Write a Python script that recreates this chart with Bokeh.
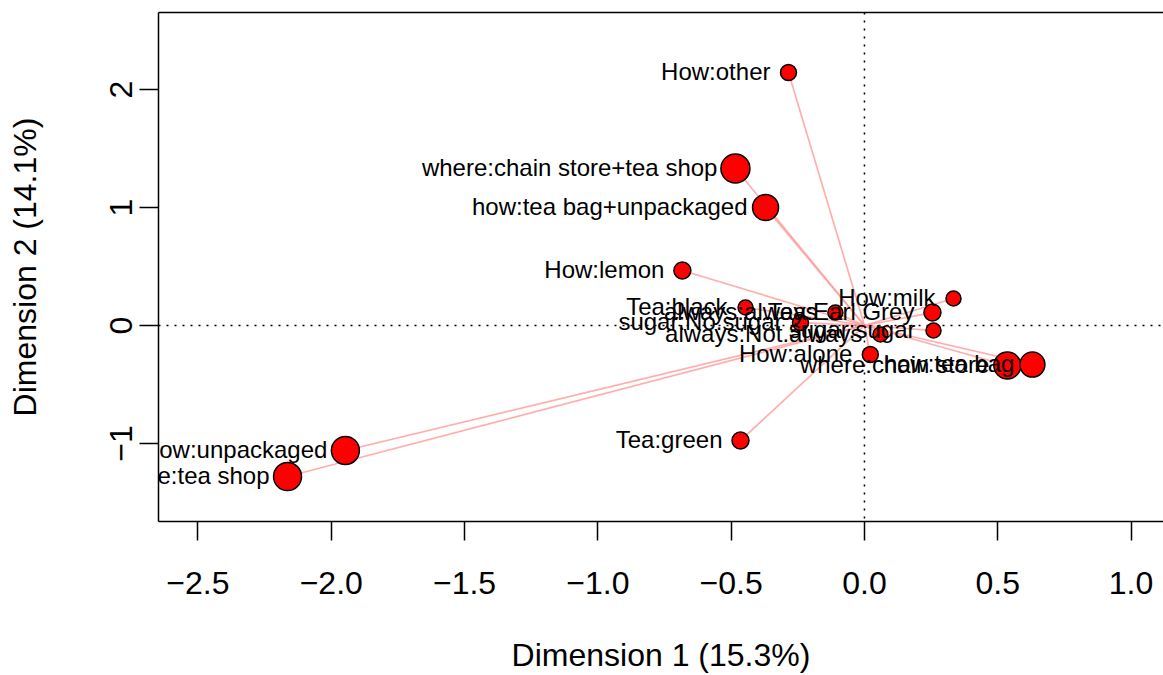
from bokeh.plotting import figure
from bokeh.models import (ColumnDataSource, Range1d, FixedTicker, LinearAxis, Span)
from bokeh.core.properties import value
from bokeh.embed import file_html
from bokeh.resources import INLINE

# MCA category coordinates on the first two dimensions
categories = [
    "How:other", "where:chain store+tea shop", "how:tea bag+unpackaged",
    "How:lemon", "How:milk", "Tea:black", "always:always", "Tea:Earl Grey",
    "sugar:No.sugar", "sugar:sugar", "always:Not.always", "How:alone",
    "where:chain store", "how:tea bag", "Tea:green", "how:unpackaged",
    "where:tea shop",
]
dim1 = [-0.285, -0.484, -0.371, -0.683, 0.334, -0.446, -0.109, 0.255,
        -0.240, 0.259, 0.060, 0.022, 0.536, 0.630, -0.465, -1.947, -2.164]
dim2 = [2.144, 1.331, 1.000, 0.466, 0.229, 0.153, 0.110, 0.110,
        0.025, -0.042, -0.076, -0.246, -0.339, -0.331, -0.975, -1.059, -1.280]

# marker diameters (px)
marker_size = [16, 29, 26, 17, 15, 15, 15, 17, 16, 15, 15, 16, 27, 25, 17, 28, 28]

x_ticks = [-2.5, -2.0, -1.5, -1.0, -0.5, 0.0, 0.5, 1.0]
x_tick_labels = ["\u22122.5", "\u22122.0", "\u22121.5", "\u22121.0", "\u22120.5", "0.0", "0.5", "1.0"]
y_ticks = [-1, 0, 1, 2]
y_tick_labels = ["\u22121", "0", "1", "2"]

x_title = "Dimension 1 (15.3%)"
y_title = "Dimension 2 (14.1%)"

FONT = "Liberation Sans"

src = ColumnDataSource(dict(x=dim1, y=dim2, label=categories, size=marker_size))

p = figure(
    width=1163, height=675,
    x_range=Range1d(-2.648, 1.1217), y_range=Range1d(-1.661, 2.653),
    output_backend="svg", toolbar_location=None,
    min_border_left=158, min_border_right=0, min_border_top=12, min_border_bottom=154,
    x_axis_location=None, y_axis_location=None,
)
p.outline_line_color = None
p.xgrid.visible = False
p.ygrid.visible = False
p.background_fill_color = "white"
p.border_fill_color = "white"


def style_axis(ax, size="32px"):
    ax.axis_line_color = "black"
    ax.axis_line_width = 1.5
    ax.major_tick_line_color = "black"
    ax.major_tick_line_width = 1.5
    ax.major_tick_out = 19
    ax.major_tick_in = 0
    ax.minor_tick_line_color = None
    ax.major_label_text_font = FONT
    ax.major_label_text_font_size = size
    ax.major_label_text_color = "black"
    ax.axis_label_text_font = FONT
    ax.axis_label_text_font_size = size
    ax.axis_label_text_font_style = "normal"
    ax.axis_label_text_color = "black"


xaxis = LinearAxis(ticker=FixedTicker(ticks=x_ticks), axis_label=x_title)
style_axis(xaxis)
xaxis.major_label_overrides = {t: s for t, s in zip(x_ticks, x_tick_labels)}
xaxis.major_label_standoff = 31
xaxis.axis_label_standoff = 40
p.add_layout(xaxis, "below")

yaxis = LinearAxis(ticker=FixedTicker(ticks=y_ticks), axis_label=y_title)
style_axis(yaxis)
yaxis.major_label_overrides = {t: s for t, s in zip(y_ticks, y_tick_labels)}
yaxis.major_label_orientation = "vertical"
yaxis.major_label_standoff = 7
yaxis.axis_label_standoff = 65
p.add_layout(yaxis, "left")

# top border of the box
top = LinearAxis(ticker=FixedTicker(ticks=[]))
top.axis_line_color = "black"
top.axis_line_width = 1.5
top.major_tick_line_color = None
top.minor_tick_line_color = None
top.major_label_text_font_size = "0px"
p.add_layout(top, "above")

# reference lines through the origin
for dim in ("width", "height"):
    p.add_layout(Span(location=0, dimension=dim, line_color="black",
                      line_width=1.5, line_dash="2 6", level="underlay"))

# segments from the origin to each category
p.segment(x0=0, y0=0, x1="x", y1="y", source=src,
          line_color="#ff9a9a", line_alpha=0.8, line_width=1.7)

p.scatter("x", "y", size="size", source=src, fill_color="#ff0000",
          line_color="black", line_width=1.5)

p.text("x", "y", text="label", source=src, text_align="right",
       text_baseline="middle", x_offset=-18, y_offset=-1,
       text_font=value(FONT), text_font_size="24px", text_color="black")

open("out.html", "w").write(file_html(p, INLINE))
